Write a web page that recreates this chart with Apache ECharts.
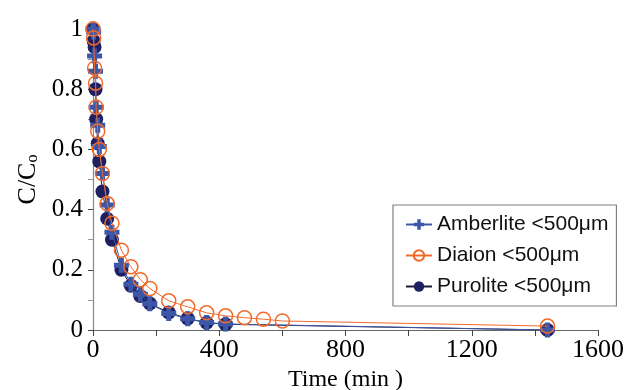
<!DOCTYPE html>
<html>
<head>
<meta charset="utf-8">
<script src="https://cdn.jsdelivr.net/npm/echarts@6/dist/echarts.min.js"></script>
<style>html,body{margin:0;padding:0;background:#fff}#c{width:638px;height:390px}</style>
</head>
<body>
<div id="c"></div>
<script>
const amberliteT = [0, 2, 5, 8, 10, 15, 20, 30, 45, 60, 90, 120, 150, 180, 240, 300, 360, 420, 1440];
const amberliteC = [1.0, 0.99, 0.91, 0.86, 0.74, 0.68, 0.61, 0.52, 0.415, 0.325, 0.215, 0.152, 0.119, 0.087, 0.055, 0.037, 0.025, 0.02, 0.0];
const diaionT = [0, 2, 5, 8, 10, 15, 20, 30, 45, 60, 90, 120, 150, 180, 240, 300, 360, 420, 480, 540, 600, 1440];
const diaionC = [1.0, 0.97, 0.87, 0.82, 0.74, 0.66, 0.60, 0.52, 0.42, 0.355, 0.265, 0.21, 0.167, 0.138, 0.097, 0.077, 0.057, 0.047, 0.041, 0.036, 0.03, 0.013];
const puroliteT = [0, 2, 5, 8, 10, 15, 20, 30, 45, 60, 90, 120, 150, 180, 240, 300, 360, 420, 1440];
const puroliteC = [1.0, 0.96, 0.94, 0.80, 0.70, 0.62, 0.56, 0.46, 0.37, 0.30, 0.20, 0.147, 0.113, 0.088, 0.058, 0.038, 0.024, 0.019, 0.0];
const seriesNames = ['Amberlite <500μm', 'Diaion <500μm', 'Purolite <500μm'];
const xTicks = [0, 400, 800, 1200, 1600];

const pair = (t, c) => t.map((v, i) => [v, c[i]]);
const crossPath = 'path://M4,0 H8 V4 H12 V8 H8 V12 H4 V8 H0 V4 H4 Z';

const chart = echarts.init(document.getElementById('c'));
chart.setOption({
  animation: false,
  grid: { left: 93, right: 40, top: 29, bottom: 60, containLabel: false, outerBoundsMode: 'none' },
  legend: {
    data: seriesNames,
    orient: 'vertical',
    left: 393, top: 205,
    padding: [9, 8, 9, 12],
    itemGap: 10,
    itemWidth: 26, itemHeight: 13,
    borderColor: '#808080', borderWidth: 1.2,
    textStyle: { fontFamily: 'Liberation Sans, Arial', fontSize: 21, color: '#111' },
  },
  xAxis: {
    type: 'value', min: 0, max: 1600, interval: 400,
    name: 'Time (min )', nameLocation: 'middle', nameGap: 32,
    nameTextStyle: { fontFamily: 'Liberation Serif', fontSize: 24, color: '#000' },
    axisLine: { show: true, lineStyle: { color: '#666', width: 1.2 } },
    axisTick: { show: true, inside: false, length: 6, lineStyle: { color: '#444' } },
    minorTick: { show: true, splitNumber: 2, length: 6, lineStyle: { color: '#444' } },
    splitLine: { show: false },
    axisLabel: { fontFamily: 'Liberation Serif', fontSize: 26, color: '#000', margin: 7,
      formatter: v => String(v) },
  },
  yAxis: {
    type: 'value', min: 0, max: 1, interval: 0.2,
    name: '{a|C/C}{s|o}', nameLocation: 'middle', nameGap: 52, nameRotate: 90,
    nameTextStyle: {
      rich: {
        a: { fontFamily: 'Liberation Serif', fontSize: 26, color: '#000' },
        s: { fontFamily: 'Liberation Serif', fontSize: 16, color: '#000', verticalAlign: 'bottom', padding: [10, 0, 0, 0] }
      }
    },
    axisLine: { show: true, lineStyle: { color: '#888', width: 1.2 } },
    axisTick: { show: true, inside: false, length: 5, lineStyle: { color: '#444' } },
    minorTick: { show: true, splitNumber: 2, length: 5, lineStyle: { color: '#999' } },
    splitLine: { show: false },
    axisLabel: { fontFamily: 'Liberation Serif', fontSize: 25, color: '#000', margin: 10 },
  },
  series: [
    {
      name: seriesNames[2], type: 'line', z: 2,
      data: pair(puroliteT, puroliteC),
      symbol: 'circle', symbolSize: 14,
      itemStyle: { color: '#1f2062' },
      lineStyle: { color: '#1a1a3a', width: 1 },
    },
    {
      name: seriesNames[0], type: 'line', z: 3,
      data: pair(amberliteT, amberliteC),
      symbol: crossPath, symbolSize: 15,
      itemStyle: { color: '#3c57a8' },
      lineStyle: { color: '#3c57a8', width: 1 },
    },
    {
      name: seriesNames[1], type: 'line', z: 4,
      data: pair(diaionT, diaionC),
      symbol: 'circle', symbolSize: 14,
      itemStyle: { color: 'rgba(255,255,255,0)', borderColor: '#f26a2a', borderWidth: 1.5 },
      lineStyle: { color: '#f26a2a', width: 1 },
    },
  ],
});
</script>
</body>
</html>
